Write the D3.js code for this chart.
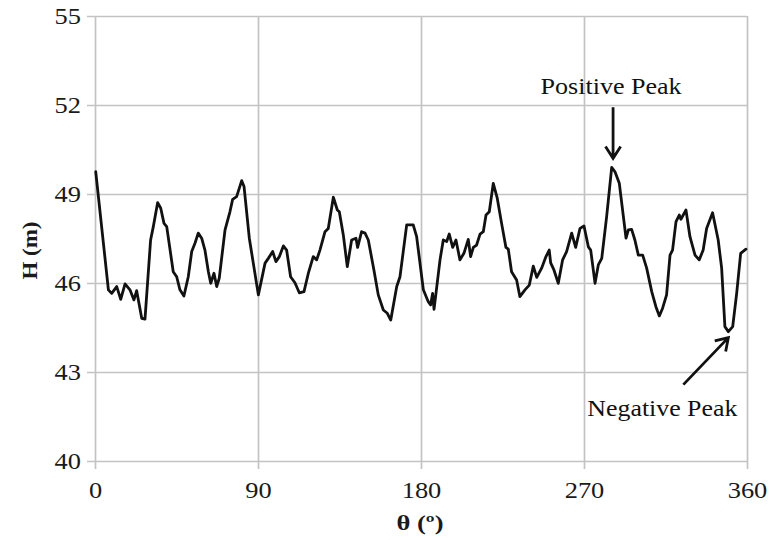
<!DOCTYPE html>
<html>
<head>
<meta charset="utf-8">
<script src="https://cdn.jsdelivr.net/npm/d3@7"></script>
<style>
  html, body { margin: 0; padding: 0; background: #fff; }
  svg text { font-family: "Liberation Serif", "Times New Roman", Tinos, "DejaVu Serif", serif; }
</style>
</head>
<body>
<svg id="chart" width="771" height="540"></svg>
<script>
// ---- data ----
const theta = [0.4, 7.4, 9.2, 12, 14.2, 16.6, 19.3, 21.5, 23, 25.8, 27.6, 30.7, 32.2, 34.6, 36.3, 38.1, 39.6,
  43.2, 45.1, 46.9, 49.1, 51.5, 53.4, 55.2, 57.0, 58.9, 60.7, 62.6, 63.9, 65.7, 67.2, 68.6, 71.8, 74.5, 76.0,
  78.2, 81.0, 82.3, 85.2, 87.4, 90.2, 93.9, 95.7, 98.1, 99.9, 101.8, 104, 105.8, 108, 110.4, 112.8, 115.4,
  117.8, 120.5, 122.4, 124.2, 127.0, 128.8, 131.6, 133.8, 134.9, 137.1, 139.3, 141.7, 144.1, 145.0, 147.2,
  149.1, 150.9, 154.0, 156.4, 159.2, 161.4, 163.3, 166.6, 168.4, 172.1, 175.7, 177.6, 181.3, 184.0, 185.3,
  186.4, 187.2, 190.5, 192.3, 194.2, 195.6, 197.5, 199.3, 201.5, 203.7, 206.1, 207.4, 208.9, 210.7, 212.6,
  214.4, 215.9, 217.7, 219.9, 222.1, 224.5, 226.9, 228.2, 230.0, 232.8, 234.6, 237.4, 239.8, 242.0, 243.9,
  246.6, 249.0, 250.8, 251.6, 253.4, 255.8, 258.2, 260.4, 263.2, 265.4, 267.8, 270, 272.4, 273.7, 276.1,
  277.9, 279.8, 282.5, 285.3, 287.1, 289.5, 293.2, 294.5, 296.3, 298.1, 300, 302.4, 304.6, 307.4, 309.7,
  311.6, 313.4, 315.6, 317.5, 318.9, 320.8, 322.6, 323.5, 324.8, 326.3, 328.5, 331.3, 333.6, 335.8, 337.7,
  341.0, 344.1, 346.0, 347.8, 349.7, 352.1, 354.3, 356.5, 359.4];
const H = [49.75, 45.77, 45.65, 45.88, 45.45, 45.97, 45.77, 45.43, 45.74, 44.81, 44.78, 47.45, 47.9, 48.71, 48.52, 48.01, 47.9,
  46.38, 46.21, 45.77, 45.56, 46.21, 47.06, 47.34, 47.68, 47.51, 47.11, 46.38, 45.99, 46.33, 45.88, 46.16, 47.79, 48.4, 48.82,
  48.91, 49.45, 49.25, 47.51, 46.67, 45.6, 46.67, 46.83, 47.06, 46.72, 46.89, 47.25, 47.11, 46.21, 46.01, 45.67, 45.71,
  46.33, 46.89, 46.78, 47.11, 47.73, 47.84, 48.89, 48.46, 48.40, 47.62, 46.55, 47.45, 47.51, 47.2, 47.73,
  47.68, 47.45, 46.44, 45.6, 45.09, 44.98, 44.75, 45.88, 46.21, 47.96, 47.96, 47.56, 45.77, 45.37, 45.26,
  45.65, 45.11, 46.78, 47.45, 47.4, 47.65, 47.2, 47.45, 46.78, 47.0, 47.47, 46.89, 47.2, 47.28, 47.65,
  47.73, 48.29, 48.4, 49.36, 48.86, 48.01, 47.2, 47.14, 46.38, 46.1, 45.54, 45.77, 45.93, 46.57, 46.19,
  46.5, 46.89, 47.11, 46.68, 46.44, 45.99, 46.78, 47.06, 47.68, 47.2, 47.84, 47.92, 47.22, 47.11, 45.99,
  46.61, 46.83, 48.24, 49.9, 49.75, 49.36, 47.51, 47.79, 47.81, 47.45, 46.94, 46.94, 46.5, 45.71, 45.2,
  44.89, 45.15, 45.6, 46.94, 47.11, 48.07, 48.29, 48.15, 48.29, 48.46, 47.56, 46.94, 46.78, 47.11, 47.84,
  48.37, 47.45, 46.5, 44.53, 44.36, 44.53, 45.65, 47.0, 47.14];
const xTicks = [0, 90, 180, 270, 360];
const yTicks = [40, 43, 46, 49, 52, 55];
const xTitle = "θ (º)";
const yTitle = "H (m)";
const annotations = [
  { label: "Positive Peak", theta: 285.5, H: 49.9 },
  { label: "Negative Peak", theta: 349.7, H: 44.36 }
];

// ---- layout ----
const svg = d3.select("#chart");
const margin = { left: 95, top: 16, right: 24, bottom: 79 };
const W = 771 - margin.left - margin.right;
const Ht = 540 - margin.top - margin.bottom;
const x = d3.scaleLinear().domain([0, 360]).range([0, W]);
const y = d3.scaleLinear().domain([40, 55]).range([Ht, 0]);
const g = svg.append("g").attr("transform", `translate(${margin.left},${margin.top})`);
const gridColor = "#c3c3c3";
const textColor = "#1a1a1a";
const stretch = 1.15;

// Y axis with gridlines
const yAxis = g.append("g")
  .call(d3.axisLeft(y).tickValues(yTicks).tickSize(-W).tickPadding(0).tickSizeOuter(0));
yAxis.select(".domain").remove();
yAxis.selectAll(".tick line").attr("stroke", gridColor).attr("stroke-width", 1.7).attr("x1", -8);
yAxis.selectAll(".tick text")
  .attr("x", -14 / stretch)
  .attr("dy", "0.34em")
  .attr("transform", `scale(${stretch},1)`)
  .attr("font-size", 23).attr("fill", textColor);

// X axis with gridlines
const xAxis = g.append("g").attr("transform", `translate(0,${Ht})`)
  .call(d3.axisBottom(x).tickValues(xTicks).tickSize(-Ht).tickPadding(21).tickSizeOuter(0));
xAxis.select(".domain").remove();
xAxis.selectAll(".tick line").attr("stroke", gridColor).attr("stroke-width", 1.7).attr("y1", 8);
xAxis.selectAll(".tick text")
  .attr("transform", `scale(${stretch},1)`)
  .attr("font-size", 23).attr("fill", textColor);

// line
const pts = theta.map((t, i) => [t, H[i]]);
g.append("path")
  .datum(pts)
  .attr("fill", "none")
  .attr("stroke", "#111")
  .attr("stroke-width", 2.8)
  .attr("stroke-linejoin", "round")
  .attr("stroke-linecap", "round")
  .attr("d", d3.line().x(d => x(d[0])).y(d => y(d[1])));

// axis titles
svg.append("text")
  .attr("x", 420)
  .attr("y", 530)
  .attr("text-anchor", "middle")
  .attr("font-size", 22)
  .attr("font-weight", "bold")
  .attr("fill", textColor)
  .attr("textLength", 47).attr("lengthAdjust", "spacingAndGlyphs")
  .text(xTitle);
svg.append("text")
  .attr("transform", `translate(37,${margin.top + Ht / 2 + 12}) rotate(-90)`)
  .attr("text-anchor", "middle")
  .attr("font-size", 22)
  .attr("font-weight", "bold")
  .attr("fill", textColor)
  .attr("textLength", 58).attr("lengthAdjust", "spacingAndGlyphs")
  .text(yTitle);

// annotations
function arrow(x1, y1, x2, y2) {
  const ang = Math.atan2(y2 - y1, x2 - x1);
  const hl = 14, ha = Math.PI / 5.5;
  const p = d3.path();
  p.moveTo(x1, y1); p.lineTo(x2, y2);
  p.moveTo(x2 - hl * Math.cos(ang - ha), y2 - hl * Math.sin(ang - ha));
  p.lineTo(x2, y2);
  p.lineTo(x2 - hl * Math.cos(ang + ha), y2 - hl * Math.sin(ang + ha));
  g.append("path").attr("d", p.toString()).attr("fill", "none")
    .attr("stroke", "#111").attr("stroke-width", 2.8).attr("stroke-linejoin", "miter");
}
const pos = annotations[0];
const px = x(pos.theta), py = y(pos.H);
arrow(px + 1, py - 60, px + 1, py - 9);
g.append("text").attr("x", px - 1).attr("y", py - 73).attr("text-anchor", "middle")
  .attr("font-size", 24).attr("fill", "#111")
  .attr("textLength", 141).attr("lengthAdjust", "spacingAndGlyphs")
  .text(pos.label);

const neg = annotations[1];
const nx = x(neg.theta), ny = y(neg.H);
arrow(nx - 45, ny + 53, nx, ny + 6);
g.append("text").attr("x", nx - 66).attr("y", ny + 84).attr("text-anchor", "middle")
  .attr("font-size", 24).attr("fill", "#111")
  .attr("textLength", 150).attr("lengthAdjust", "spacingAndGlyphs")
  .text(neg.label);
</script>
</body>
</html>
